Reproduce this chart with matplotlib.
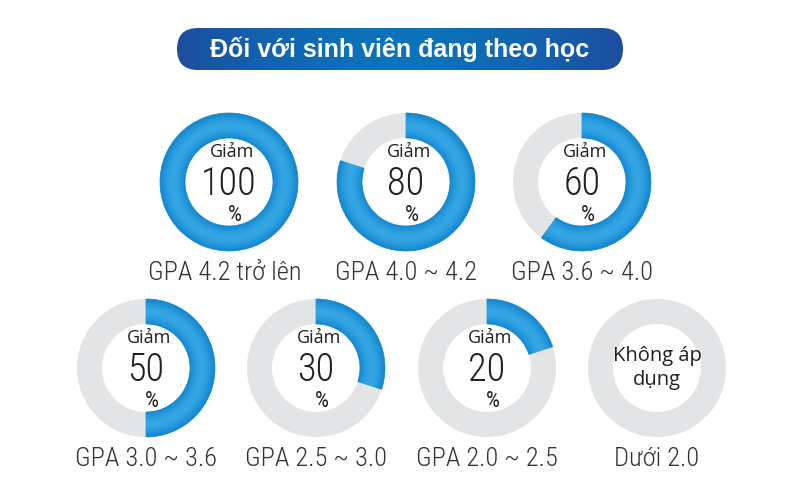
import numpy as np
import matplotlib.pyplot as plt
from matplotlib import font_manager
from matplotlib.patches import FancyBboxPatch
from matplotlib.colors import to_rgb

title = "Đối với sinh viên đang theo học"
discounts = [100, 80, 60, 50, 30, 20, 0]
gpa_labels = ["GPA 4.2 trở lên", "GPA 4.0 ~ 4.2", "GPA 3.6 ~ 4.0",
              "GPA 3.0 ~ 3.6", "GPA 2.5 ~ 3.0", "GPA 2.0 ~ 2.5", "Dưới 2.0"]
na_text = "Không áp\ndụng"

# pick a condensed face if one is installed
fonts = font_manager.fontManager.ttflist
names = {f.name for f in fonts}
narrow, stretch = None, "normal"
for cand in ["Liberation Sans Narrow", "Roboto Condensed", "Open Sans Condensed",
             "DejaVu Sans Condensed", "Noto Sans Condensed"]:
    if cand in names:
        narrow = cand
        break
if narrow is None:
    for f in fonts:
        if f.name in ("DejaVu Sans", "Noto Sans", "Open Sans", "Roboto") and \
                str(f.stretch) in ("condensed", "semi-condensed", "extra-condensed"):
            narrow, stretch = f.name, f.stretch
            break
if narrow is None:
    narrow = "Roboto" if "Roboto" in names else "DejaVu Sans"
narrow = [narrow, "DejaVu Sans"]
sans = ["Open Sans", "DejaVu Sans"]

# layout (pixel space, y up)
centers = [(229, 318), (406, 318), (582, 318),
           (146, 132), (316, 132), (487, 132), (657, 132)]
r_out, r_in = 69, 44
dark_blue = np.array(to_rgb("#0e84cf"))
light_blue = np.array(to_rgb("#33a6e4"))
gray = "#e3e4e5"
txt = "#231f20"

fig = plt.figure(figsize=(8, 5), dpi=100)
ax = fig.add_axes([0, 0, 1, 1])

# title pill with horizontal gradient
px0, px1, py0, py1 = 177, 623, 430, 472
pill = FancyBboxPatch((px0, py0), px1 - px0, py1 - py0,
                      boxstyle="round,pad=0,rounding_size=21",
                      facecolor="none", edgecolor="none")
ax.add_patch(pill)
xs = np.linspace(-1, 1, 300)
c_edge = np.array(to_rgb("#1d4e9e"))
c_mid = np.array(to_rgb("#0a74bb"))
t = np.abs(xs) ** 1.5
grad = (c_mid[None, :] * (1 - t[:, None]) + c_edge[None, :] * t[:, None])[None, :, :]
im = ax.imshow(grad, extent=(px0, px1, py0, py1), aspect="auto", zorder=1)
im.set_clip_path(pill)
ax.text(400, 451, title, color="white", fontsize=18, fontweight="bold",
        family=["Liberation Sans", "DejaVu Sans"], ha="center", va="center", zorder=2)

n_bands = 14
edges = np.linspace(r_in, r_out, n_bands + 1)
for (cx, cy), pct, lab in zip(centers, discounts, gpa_labels):
    # gray base ring
    ax.pie([100], radius=r_out, center=(cx, cy), colors=[gray],
           wedgeprops=dict(width=r_out - r_in, linewidth=0))
    # blue part, radial gradient bands
    if pct > 0:
        for k in range(n_bands):
            ro = edges[k + 1]
            mid = (edges[k] + edges[k + 1]) / 2
            tt = abs(mid - (r_in + r_out) / 2) / ((r_out - r_in) / 2)
            col = light_blue * (1 - tt ** 1.6) + dark_blue * tt ** 1.6
            wedges, _ = ax.pie([pct, 100 - pct], radius=ro, center=(cx, cy),
                               colors=[col, "none"], startangle=90, counterclock=False,
                               wedgeprops=dict(width=edges[k + 1] - edges[k]))
            wedges[0].set_edgecolor(col)
            wedges[0].set_linewidth(0.5)
            wedges[1].set_linewidth(0)
        ax.text(cx + 3, cy + 25, "Giảm", family=sans, fontsize=13, color=txt,
                ha="center", va="baseline")
        ax.text(cx, cy - 13, str(pct), family=narrow, fontstretch=stretch,
                fontweight="light", fontsize=27.5, color=txt, ha="center", va="baseline")
        ax.text(cx + 6, cy - 39, "%", family=narrow, fontstretch=stretch,
                fontsize=16, color=txt, ha="center", va="baseline")
    else:
        ax.text(cx, cy, na_text, family=sans, fontsize=14.5, color=txt,
                ha="center", va="center", linespacing=1.3)
    ax.text(cx - 4 if pct == 100 else cx, cy - 98, lab, family=narrow,
            fontstretch=stretch, fontweight="light", fontsize=19, color="#333333",
            ha="center", va="baseline")

ax.set_xlim(0, 800)
ax.set_ylim(0, 500)
ax.set_aspect("equal")
ax.axis("off")
fig.savefig("out.png", dpi=100, facecolor="white")
